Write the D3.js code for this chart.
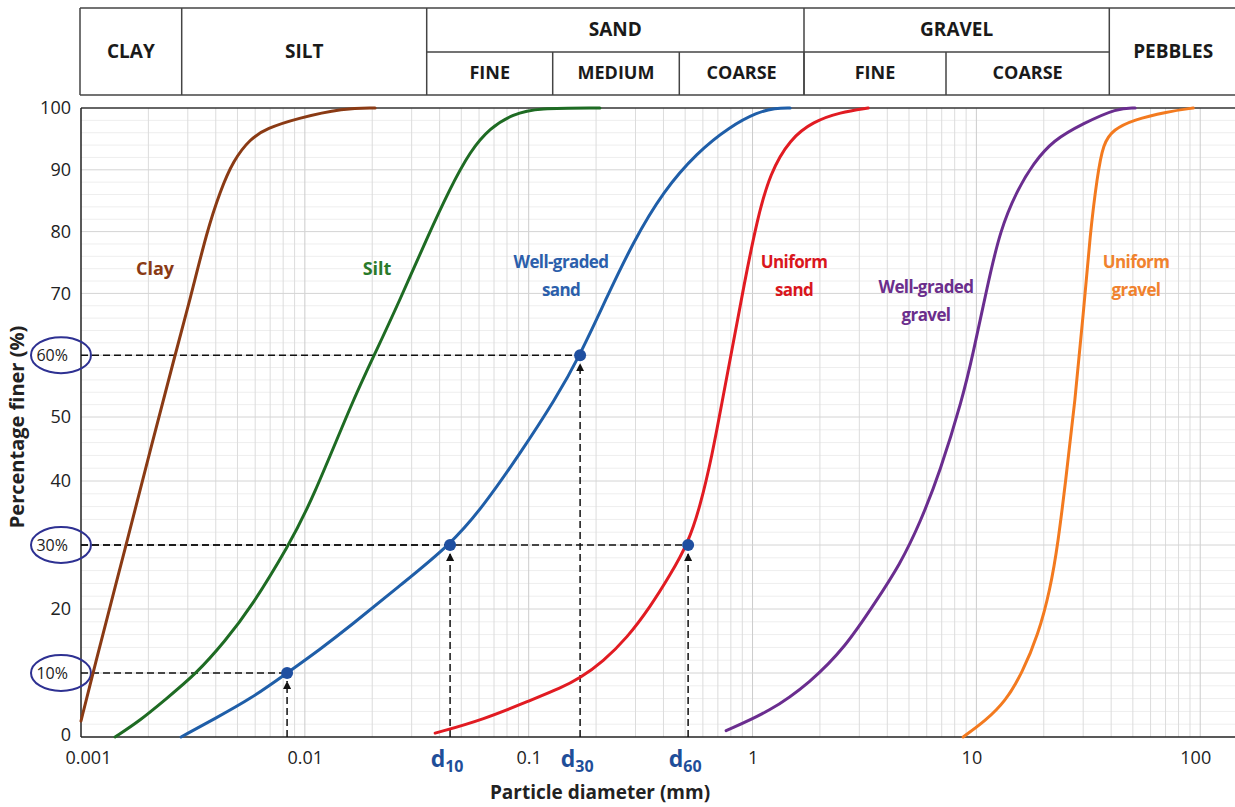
<!DOCTYPE html>
<html><head><meta charset="utf-8">
<script src="https://cdn.jsdelivr.net/npm/d3@7"></script>
<style>body{margin:0;background:#fff;} svg{display:block;font-family:"Open Sans","Noto Sans",sans-serif;}</style>
</head><body><svg id="c" width="1235" height="807"></svg>
<script>
// ---------------- DATA ----------------
const xTickValues = [0.001, 0.01, 0.1, 1, 10, 100];
const xTickLabels = ["0.001", "0.01", "0.1", "1", "10", "100"];
const yTickValues = [0, 10, 20, 30, 40, 50, 60, 70, 80, 90, 100];
const yTickLabels = ["0", "10%", "20", "30%", "40", "50", "60%", "70", "80", "90", "100"];
const circledTicks = [10, 30, 60];

const headerTop = ["CLAY", "SILT", "SAND", "GRAVEL", "PEBBLES"];
const headerSub = ["FINE", "MEDIUM", "COARSE", "FINE", "COARSE"];

const seriesNames = ["Clay", "Silt", "Well-graded sand", "Uniform sand", "Well-graded gravel", "Uniform gravel"];

// [diameter mm, percent finer]
const clay = [[0.001, 2.5], [0.00113, 10], [0.00159, 30], [0.00208, 46], [0.00263, 60], [0.00307, 69],
  [0.00365, 80], [0.00418, 86.5], [0.00479, 91.5], [0.00569, 95], [0.00676, 96.7], [0.0092, 98.3],
  [0.0149, 100], [0.0206, 100]];
const silt = [[0.00142, 0], [0.00184, 2.6], [0.00237, 5.8], [0.0033, 10], [0.0044, 15], [0.00569, 20],
  [0.0085, 30], [0.01077, 37], [0.01642, 52.8], [0.0206, 60.3], [0.02664, 69], [0.03516, 79],
  [0.04455, 87], [0.0547, 93], [0.0672, 96.8], [0.0852, 99], [0.109, 100], [0.208, 100]];
const wellGradedSand = [[0.0028, 0], [0.00397, 2.9], [0.00569, 5.9], [0.00833, 10], [0.01169, 13.7],
  [0.01592, 17.3], [0.02664, 23.7], [0.04455, 30], [0.06256, 36], [0.0915, 44.3], [0.1312, 52.8],
  [0.1697, 60], [0.2241, 69.5], [0.2928, 78.3], [0.3986, 86.5], [0.5655, 92.8], [0.794, 97],
  [1.049, 99.3], [1.262, 100], [1.472, 100]];
const uniformSand = [[0.0382, 0.6], [0.0626, 2.7], [0.1046, 5.9], [0.1381, 7.6], [0.1697, 9.2], [0.215, 11.8],
  [0.2752, 15.5], [0.3486, 20.3], [0.4284, 25.3], [0.5155, 30.3], [0.5832, 36], [0.6599, 44],
  [0.7315, 52.5], [0.8105, 61], [0.9173, 71.5], [1.049, 82], [1.198, 89.5], [1.472, 95],
  [1.866, 97.8], [2.463, 99.3], [3.285, 100]];
const wellGradedGravel = [[0.762, 1], [1.198, 4], [1.809, 8.5], [2.593, 14], [3.53, 21], [4.566, 27],
  [5.609, 33.5], [6.891, 41.5], [8.64, 52.8], [9.676, 60.3], [11.18, 71.1], [12.78, 80.3], [15.22, 86.7],
  [17.94, 91], [22.04, 94.8], [30.01, 97.5], [42.57, 100], [51.23, 100]];
const uniformGravel = [[8.73, 0], [10.95, 2.5], [13.45, 5.5], [16.02, 10], [18.89, 16], [21.37, 23],
  [23.2, 30.5], [24.94, 39.5], [27.64, 52.8], [30.01, 66.5], [32.25, 79.8], [34.65, 88.9], [36.86, 94.3],
  [40.87, 96.5], [50.2, 98.1], [71.21, 99.4], [93.05, 100]];

// characteristic points [diameter, percent]
const markers = [[0.00833, 10], [0.04455, 30], [0.1697, 60], [0.5155, 30]];
const dSubscripts = ["10", "30", "60"]; // placed under markers 2..4

// ---------------- LAYOUT / STYLE ----------------
const W = 1235, H = 807;
const plot = {left: 81, right: 1235, top: 108, bottom: 737};
const colors = ["#8a3a14", "#1e6b23", "#1f5ea8", "#e11b22", "#6a2d8f", "#f37a1f"];
const labelColors = ["#8a3a14", "#2a7a2a", "#2c5fab", "#d9161d", "#6b2e8c", "#f0822e"];
const labelPos = [ // [x px, y px, lines]
  [155, 270, ["Clay"]], [377, 270, ["Silt"]], [561, 263, ["Well-graded", "sand"]],
  [794, 263, ["Uniform", "sand"]], [926, 288, ["Well-graded", "gravel"]], [1136, 263, ["Uniform", "gravel"]]
];
const header = {top: 8, mid: 52, bottom: 95,
  cols: [80, 181.7, 426.7, 804, 1109.3, 1235],
  subCols: [426.7, 552.7, 679.3, 804, 946, 1109.3]};

const svg = d3.select("#c");

const x = d3.scaleLog().domain([0.001, 143]).range([plot.left, plot.right]);
const y = d3.scaleLinear().domain([0, 50, 100]).range([plot.bottom, 417, plot.top]);

// ---------- grid ----------
const g = svg.append("g");
const minorY = d3.range(0, 101, 2).filter(v => v % 10 !== 0);
g.selectAll(".my").data(minorY).join("line")
  .attr("x1", plot.left).attr("x2", plot.right).attr("y1", d => y(d)).attr("y2", d => y(d))
  .attr("stroke", "#eeeeee").attr("stroke-width", 1);
const minorX = [];
[0.001, 0.01, 0.1, 1, 10, 100].forEach(dec => { for (let k = 2; k <= 9; k++) if (dec * k < 143) minorX.push(dec * k); });
g.selectAll(".mx").data(minorX).join("line")
  .attr("x1", d => x(d)).attr("x2", d => x(d)).attr("y1", plot.top).attr("y2", plot.bottom)
  .attr("stroke", "#dcdcdc").attr("stroke-width", 1);
g.selectAll(".Mx").data(xTickValues.slice(1)).join("line")
  .attr("x1", d => x(d)).attr("x2", d => x(d)).attr("y1", plot.top).attr("y2", plot.bottom)
  .attr("stroke", "#cccccc").attr("stroke-width", 1);
g.selectAll(".My").data(yTickValues.slice(1, -1)).join("line")
  .attr("x1", plot.left).attr("x2", plot.right).attr("y1", d => y(d)).attr("y2", d => y(d))
  .attr("stroke", "#d4d4d4").attr("stroke-width", 1);

// ---------- axes frame ----------
svg.append("line").attr("x1", plot.left).attr("x2", plot.right).attr("y1", plot.top).attr("y2", plot.top)
  .attr("stroke", "#333").attr("stroke-width", 1.5);
svg.append("line").attr("x1", plot.left).attr("x2", plot.right).attr("y1", plot.bottom).attr("y2", plot.bottom)
  .attr("stroke", "#222").attr("stroke-width", 1.5);
svg.append("line").attr("x1", plot.left).attr("x2", plot.left).attr("y1", plot.top).attr("y2", plot.bottom)
  .attr("stroke", "#222").attr("stroke-width", 1.5);

// x tick labels
const xAxis = d3.axisBottom(x).tickValues(xTickValues).tickFormat((d, i) => xTickLabels[i]).tickSize(0).tickPadding(14);
const xa = svg.append("g").attr("transform", `translate(0,${plot.bottom})`).call(xAxis);
xa.select(".domain").remove();
xa.selectAll("text").attr("font-size", 18).attr("fill", "#222").attr("font-family", '"Open Sans",sans-serif')
  .attr("dx", (d, i) => i === 0 ? 7 : (i >= 4 ? -5 : 0));

// y tick labels
const yAxis = d3.axisLeft(y).tickValues(yTickValues).tickFormat((d, i) => yTickLabels[i]).tickSize(0).tickPadding(10);
const ya = svg.append("g").attr("transform", `translate(${plot.left},0)`).call(yAxis);
ya.select(".domain").remove();
ya.selectAll("text").attr("fill", "#222").attr("font-family", '"Open Sans",sans-serif')
  .attr("font-size", d => circledTicks.includes(d) ? 16 : 18)
  .attr("dx", d => circledTicks.includes(d) ? -3 : 0)
  .attr("dy", d => d === 0 ? "0.2em" : "0.32em");
// ellipses around highlighted ticks
svg.selectAll(".ell").data(circledTicks).join("ellipse")
  .attr("cx", 61).attr("cy", d => y(d)).attr("rx", 30).attr("ry", 18)
  .attr("fill", "none").attr("stroke", "#2e3192").attr("stroke-width", 2);

// axis titles
svg.append("text").attr("x", 600).attr("y", 799).attr("text-anchor", "middle")
  .attr("font-size", 19).attr("font-weight", "bold").attr("fill", "#222").text("Particle diameter (mm)");
svg.append("text").attr("transform", "translate(24,427) rotate(-90)").attr("text-anchor", "middle")
  .attr("font-size", 20).attr("font-weight", "bold").attr("fill", "#222").text("Percentage finer (%)");

// ---------- dashed guide lines ----------
const defs = svg.append("defs");
defs.append("marker").attr("id", "arr").attr("viewBox", "0 0 10 10").attr("refX", 10).attr("refY", 5)
  .attr("markerWidth", 8).attr("markerHeight", 8).attr("markerUnits", "userSpaceOnUse").attr("orient", "auto")
  .append("path").attr("d", "M0,0 L10,5 L0,10 z").attr("fill", "#111");
const guides = svg.append("g");
guides.selectAll(".h").data(markers).join("line")
  .attr("x1", plot.left).attr("x2", d => x(d[0])).attr("y1", d => y(d[1])).attr("y2", d => y(d[1]))
  .attr("stroke", "#111").attr("stroke-width", 1.5).attr("stroke-dasharray", "7,4");
guides.selectAll(".v").data(markers).join("line")
  .attr("x1", d => x(d[0])).attr("x2", d => x(d[0])).attr("y1", plot.bottom).attr("y2", d => y(d[1]) + 8)
  .attr("stroke", "#111").attr("stroke-width", 1.5).attr("stroke-dasharray", "7,4")
  .attr("marker-end", "url(#arr)");

// ---------- curves ----------
const allSeries = [clay, silt, wellGradedSand, uniformSand, wellGradedGravel, uniformGravel];
const line = d3.line().x(d => x(d[0])).y(d => y(d[1])).curve(d3.curveBasis);
svg.append("g").selectAll("path").data(allSeries).join("path")
  .attr("d", line).attr("fill", "none").attr("stroke", (d, i) => colors[i]).attr("stroke-width", 3)
  .attr("stroke-linecap", "round").attr("stroke-linejoin", "round");

// markers
svg.append("g").selectAll("circle").data(markers).join("circle")
  .attr("cx", d => x(d[0])).attr("cy", d => y(d[1])).attr("r", 6).attr("fill", "#1f4fa0");

// curve labels
labelPos.forEach((p, i) => {
  const t = svg.append("text").attr("x", p[0]).attr("y", p[1]).attr("text-anchor", "middle")
    .attr("font-size", i < 2 ? 18 : 17).attr("font-weight", "bold").attr("fill", labelColors[i])
    .attr("dominant-baseline", "middle").attr("letter-spacing", i < 2 ? 0 : -0.6);
  p[2].forEach((s, j) => t.append("tspan").attr("x", p[0]).attr("dy", j === 0 ? 0 : 28).text(s));
  t.append("title").text(seriesNames[i]);
});

// d labels
markers.slice(1).forEach((m, i) => {
  const t = svg.append("text").attr("x", x(m[0]) - 3).attr("y", 767).attr("text-anchor", "middle")
    .attr("font-weight", "bold").attr("fill", "#1f4e99");
  t.append("tspan").attr("font-size", 23).text("d");
  t.append("tspan").attr("font-size", 16).attr("dy", 5).text(dSubscripts[i]);
});

// ---------- header table ----------
const hd = svg.append("g").attr("stroke", "#444").attr("stroke-width", 1.5);
hd.append("line").attr("x1", header.cols[0]).attr("x2", W).attr("y1", header.top).attr("y2", header.top);
hd.append("line").attr("x1", header.cols[0]).attr("x2", W).attr("y1", header.bottom).attr("y2", header.bottom);
hd.selectAll(".vc").data(header.cols.slice(0, -1)).join("line")
  .attr("x1", d => d).attr("x2", d => d).attr("y1", header.top).attr("y2", header.bottom);
hd.append("line").attr("x1", header.subCols[0]).attr("x2", header.subCols[5]).attr("y1", header.mid).attr("y2", header.mid);
hd.selectAll(".sc").data(header.subCols.slice(1, -1)).join("line")
  .attr("x1", d => d).attr("x2", d => d).attr("y1", header.mid).attr("y2", header.bottom);

const ht = svg.append("g").attr("font-weight", "bold").attr("font-size", 19).attr("fill", "#1a1a1a")
  .attr("text-anchor", "middle").attr("dominant-baseline", "middle");
headerTop.forEach((s, i) => {
  const cx = (header.cols[i] + header.cols[i + 1]) / 2;
  const twoRow = (s === "SAND" || s === "GRAVEL");
  ht.append("text").attr("x", cx + (s === "PEBBLES" ? 1 : 0))
    .attr("y", twoRow ? (header.top + header.mid) / 2 + 1 : (header.top + header.bottom) / 2 + 1).text(s);
});
headerSub.forEach((s, i) => {
  const cx = (header.subCols[i] + header.subCols[i + 1]) / 2;
  ht.append("text").attr("x", cx).attr("y", (header.mid + header.bottom) / 2 + 1).attr("font-size", 18).text(s);
});
</script></body></html>
